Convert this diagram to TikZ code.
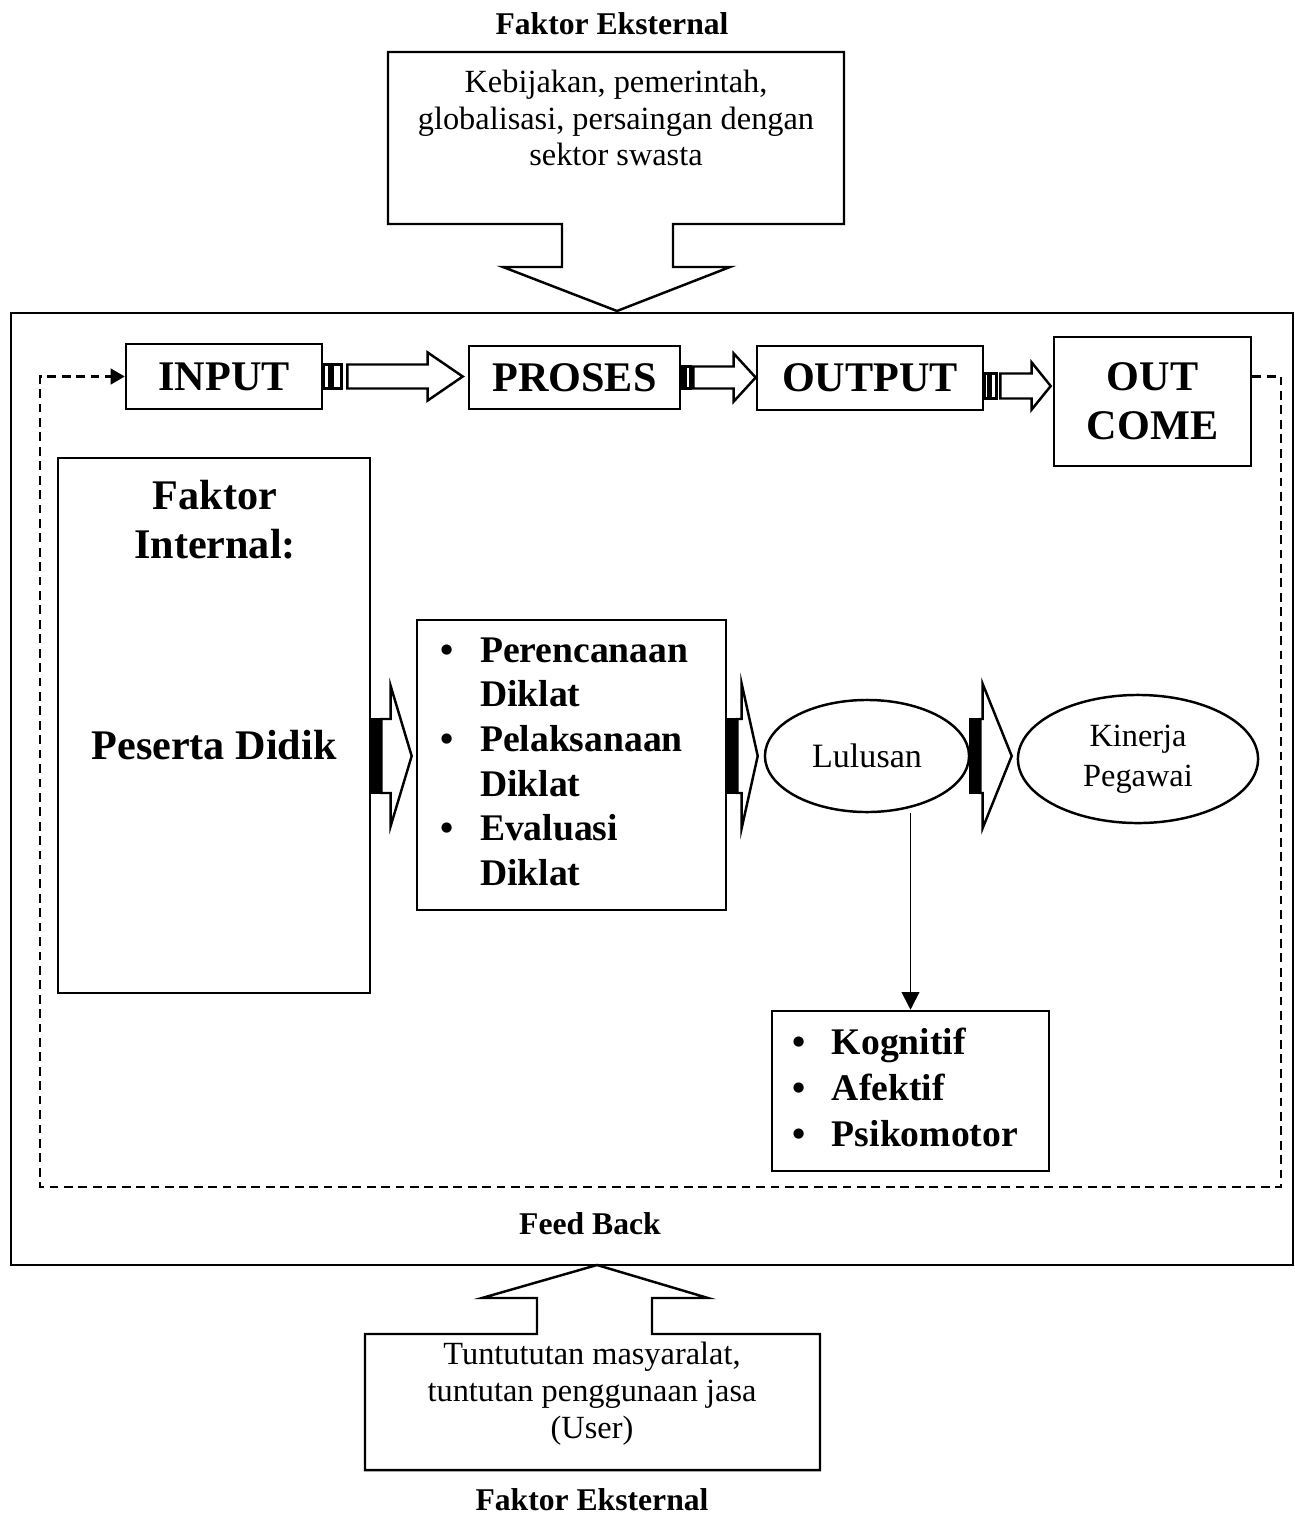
\documentclass[tikz,border=0pt]{standalone}
\usepackage{fontspec}
\setmainfont{Liberation Serif}
\usetikzlibrary{arrows.meta,calc,shapes.geometric}

% striped block arrow: [stripe fill]{start}{tip}{stripe unit}{shaft half}{head half}{head length}
\newcommand{\striparrow}[7][fill=white]{%
  \path let \p1=(#2), \p2=(#3) in (\x1,\y1) coordinate (sa) (\x2,\y1) coordinate (sb);
  \draw[ln,#1] ($(sa)+(0,-#5)$) rectangle ($(sa)+(#4,#5)$);
  \draw[ln,#1] ($(sa)+(1.5*#4,-#5)$) rectangle ($(sa)+(3*#4,#5)$);
  \draw[ln,fill=white] ($(sa)+(4*#4,-#5)$) -- ($(sb)+(-#7,-#5)$) -- ($(sb)+(-#7,-#6)$) -- (sb)
    -- ($(sb)+(-#7,#6)$) -- ($(sb)+(-#7,#5)$) -- ($(sa)+(4*#4,#5)$) -- cycle;
}

\begin{document}
\begin{tikzpicture}[x=0.01cm, y=-0.01cm,
  ln/.style={line width=0.7pt},
  blk/.style={draw, line width=0.7pt, inner sep=0pt, align=center},
  big/.style={font=\bfseries\fontsize{12}{14}\selectfont, align=center},
  lst/.style={font=\bfseries\fontsize{10.7}{12.7}\selectfont},
  txt/.style={font=\fontsize{9.2}{10.5}\selectfont, align=center},
  extlbl/.style={font=\bfseries\fontsize{9}{11}\selectfont, inner sep=1pt},
  oval/.style={draw, ellipse, line width=0.7pt, inner sep=0pt, align=center},
  fbline/.style={line width=0.6pt, dash pattern=on 2.5pt off 1.6pt},
  arr/.style={-{Triangle[length=5pt,width=5pt]}, line width=0.5pt}]
\useasboundingbox (0,0) rectangle (1295,1515);

% external factor, top
\node[extlbl] (ex1) at (612,24) {Faktor Eksternal};
\draw[ln] (562,224) -- (388,224) -- (388,52) -- (844,52) -- (844,224) -- (673,224)
  -- (673,267) -- (730,267) -- (617,311) -- (503,267) -- (562,267) -- cycle;
\node[txt] (kb) at (616,118) {Kebijakan, pemerintah,\\globalisasi, persaingan dengan\\sektor swasta};

\draw[ln] (11,313) rectangle (1293,1265);

% top row
\node[blk, big, minimum width=1.96cm, minimum height=0.65cm] (in) at (224,376.5) {INPUT};
\node[blk, big, minimum width=2.11cm, minimum height=0.63cm] (pr) at (574.5,377.5) {PROSES};
\node[blk, big, minimum width=2.26cm, minimum height=0.64cm] (ou) at (870,378) {OUTPUT};
\node[blk, big, minimum width=1.97cm, minimum height=1.29cm] (oc) at (1152.5,401.5) {OUT\\COME};
\striparrow{in.east}{$(pr.west)+(-5,0)$}{6}{12}{24}{35}
\striparrow{pr.east}{ou.west}{3}{11}{24}{22}
\striparrow{$(ou.east)+(0,8)$}{$(oc.west)+(-2,0)$}{4}{12.5}{23.5}{19}

% middle row
\node[blk, minimum width=3.12cm, minimum height=5.35cm] (fi) at (214,725.5) {};
\node[big] (fit) at (215,520) {Faktor\\Internal:};
\node[big] (pd) at (214,745) {Peserta Didik};
\node[blk, lst, minimum width=3.09cm, minimum height=2.90cm] (pk) at (571.5,765) {%
  \begin{tabular}{@{}l@{\hspace{7.5pt}}l@{\hspace{4pt}}}
  \textbullet & Perencanaan\\ & Diklat\\
  \textbullet & Pelaksanaan\\ & Diklat\\
  \textbullet & Evaluasi\\ & Diklat
  \end{tabular}};
\node[oval, minimum width=2.04cm, minimum height=1.12cm, font=\fontsize{9.7}{11}\selectfont] (lul) at (867,756) {Lulusan};
\node[oval, minimum width=2.40cm, minimum height=1.28cm, font=\fontsize{9.2}{11.4}\selectfont] (kp) at (1138,759) {Kinerja\\Pegawai};
\striparrow[fill=black]{fi.east |- lul.west}{$(pk.west)+(-4,0)$}{2.5}{37}{70}{21}
\striparrow[fill=black]{pk.east |- lul.west}{$(lul.west)+(-6,0)$}{2.5}{37}{72}{16}
\striparrow[fill=black]{lul.east}{$(kp.west)+(-5,0)$}{2.5}{37}{72}{29}

\node[blk, lst, minimum width=2.77cm, minimum height=1.60cm, font=\bfseries\fontsize{10.7}{13.1}\selectfont] (kg) at (910.5,1091) {%
  \begin{tabular}{@{}l@{\hspace{7.5pt}}l@{\hspace{3pt}}}
  \textbullet & Kognitif\\
  \textbullet & Afektif\\
  \textbullet & Psikomotor
  \end{tabular}};
\draw[arr] (lul.south -| kg.north) -- (kg.north);

% feedback loop
\coordinate (fb1) at (1281,1187);
\coordinate (fb2) at (40,1187);
\draw[fbline, -{Triangle[length=4pt,width=4.5pt]}] (oc.east |- in.east) -| (fb1) -- (fb2) |- (in.west);
\node[extlbl] (fbk) at (590,1224) {Feed Back};

% external factor, bottom
\draw[ln] (537,1334) -- (365,1334) -- (365,1470) -- (820,1470) -- (820,1334) -- (652,1334)
  -- (652,1298) -- (708,1298) -- (597,1265) -- (482,1298) -- (537,1298) -- cycle;
\node[txt] (tt) at (592,1394) {Tuntututan masyaralat,\\tuntutan penggunaan jasa\\(User)};
\node[extlbl] (ex2) at (592,1500) {Faktor Eksternal};
\end{tikzpicture}
\end{document}
